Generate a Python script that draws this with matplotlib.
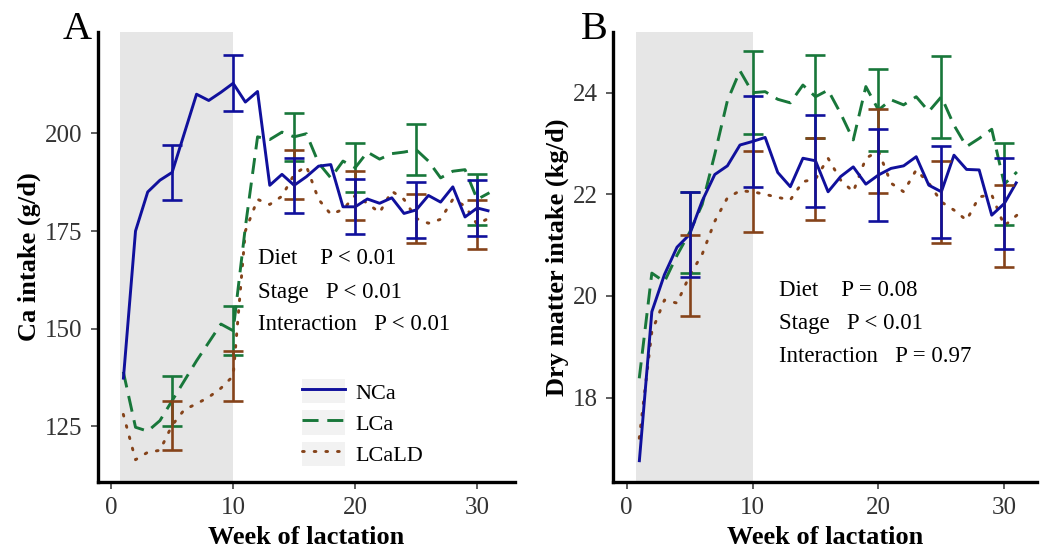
import matplotlib.pyplot as plt
import numpy as np
from matplotlib.lines import Line2D
from matplotlib.patches import Rectangle

plt.rcParams['font.family'] = ['Liberation Serif', 'DejaVu Serif']

weeks = np.arange(1, 32)
se_weeks = [5, 10, 15, 20, 25, 30]
diets = ['NCa', 'LCa', 'LCaLD']

# panel A - Ca intake (g/d)
ca_nca = [137, 175, 185, 188, 190, 200, 210, 208.4, 210.5, 212.8, 208, 210.7, 186.7, 189.5, 186.7, 188.9,
          191.6, 192, 181.2, 181.2, 183.2, 182.1, 183.5, 179.5, 180.4, 184.1, 182.4, 186.3, 178.6, 180.9, 180.1]
ca_lca = [139, 124.8, 123.8, 126.5, 131.6, 136.7, 141.8, 146.5, 151.2, 149.5, 176, 199.1, 198.4, 200.3, 199.1, 199.9,
          192.4, 188.6, 192.9, 191.2, 195.2, 193.4, 194.8, 195.2, 195.8, 192.9, 188.6, 190.3, 190.7, 183.1, 184.8]
ca_lcald = [128.1, 116.5, 118.4, 118.9, 125.3, 129.3, 130.8, 132.5, 134.8, 137.9, 175, 183.1, 181.8, 183.9, 189.5, 191.6,
            183.1, 179.3, 180.5, 184.1, 182.1, 179.7, 185.2, 183.1, 178.2, 177, 178, 183.1, 181.4, 176.7, 178.4]
ca_se = {'NCa': [7.0, 7.2, 7.1, 7.0, 7.1, 7.1],
         'LCa': [6.4, 6.2, 6.1, 6.2, 6.5, 6.5],
         'LCaLD': [6.3, 6.3, 6.3, 6.3, 6.3, 6.3]}

# panel B - dry matter intake (kg/d)
dm_nca = [16.73, 19.69, 20.42, 20.96, 21.21, 21.87, 22.39, 22.56, 22.97, 23.04, 23.12, 22.43, 22.15, 22.71, 22.66, 22.05,
          22.35, 22.54, 22.2, 22.38, 22.51, 22.56, 22.74, 22.18, 22.05, 22.77, 22.49, 22.48, 21.59, 21.82, 22.25]
dm_lca = [18.38, 20.45, 20.28, 20.8, 21.25, 21.8, 22.79, 23.84, 24.43, 24.0, 24.02, 23.87, 23.8, 24.15, 23.92, 24.05,
          23.59, 23.07, 24.12, 23.66, 23.86, 23.76, 23.92, 23.63, 23.92, 23.36, 22.94, 23.1, 23.28, 22.2, 22.44]
dm_lcald = [17.2, 19.3, 19.92, 19.86, 20.4, 20.82, 21.47, 21.93, 22.07, 22.05, 22.0, 21.94, 21.89, 22.25, 22.3, 22.71,
            22.28, 22.05, 22.71, 22.85, 22.22, 22.05, 22.48, 22.22, 21.85, 21.69, 21.49, 21.95, 21.99, 21.38, 21.59]
dm_se = {'NCa': [0.84, 0.89, 0.9, 0.9, 0.9, 0.9],
         'LCa': [0.79, 0.82, 0.82, 0.8, 0.81, 0.81],
         'LCaLD': [0.79, 0.8, 0.8, 0.82, 0.8, 0.81]}

stats_a = ['Diet    P < 0.01', 'Stage   P < 0.01', 'Interaction   P < 0.01']
stats_b = ['Diet    P = 0.08', 'Stage   P < 0.01', 'Interaction   P = 0.97']

colors = {'NCa': '#10109c', 'LCa': '#18773a', 'LCaLD': '#85431a'}
styles = {'NCa': '-', 'LCa': (0, (5.5, 3)), 'LCaLD': (0, (0.6, 3.4))}
caps = {'NCa': 'projecting', 'LCa': 'butt', 'LCaLD': 'round'}
LW = 2.1


def draw_panel(ax, data, se, ylim, yticks, xlim, ylabel, stats, stat_x, stat_y):
    ax.axvspan(0.75, 10, color='#e6e6e6', lw=0, zorder=0)

    idx = [w - 1 for w in se_weeks]
    # errorbars over the lines, blue one last so it sits on top
    for d in ['LCa', 'LCaLD', 'NCa']:
        y = np.array(data[d])
        ax.errorbar(se_weeks, y[idx], yerr=se[d], fmt='none', ecolor=colors[d],
                    elinewidth=1.9, capsize=7.5, capthick=1.9, zorder=3)
    for d in ['LCaLD', 'LCa', 'NCa']:
        ax.plot(weeks, data[d], color=colors[d], lw=LW, linestyle=styles[d],
                solid_capstyle='butt', dash_capstyle=caps[d], zorder=2)

    for s, yy in zip(stats, stat_y):
        ax.text(stat_x, yy, s, fontsize=16.5, ha='left', va='center')

    ax.set_xlim(*xlim)
    ax.set_ylim(*ylim)
    ax.set_xticks([0, 10, 20, 30])
    ax.set_yticks(yticks)
    for sp in ['top', 'right']:
        ax.spines[sp].set_visible(False)
    for sp in ['left', 'bottom']:
        ax.spines[sp].set_linewidth(2.4)
        ax.spines[sp].set_color('black')
    ax.tick_params(length=5, width=1.1, color='#333333', labelcolor='#333333',
                   labelsize=18, pad=6)
    ax.set_xlabel('Week of lactation', fontsize=19, fontweight='bold', labelpad=5)
    ax.set_ylabel(ylabel, fontsize=19, fontweight='bold', labelpad=3)


fig = plt.figure(figsize=(10.52, 5.54), dpi=100)
ax_a = fig.add_axes([0.0932, 0.130, 0.3964, 0.8128])
ax_b = fig.add_axes([0.583, 0.130, 0.4028, 0.8128])

draw_panel(ax_a, {'NCa': ca_nca, 'LCa': ca_lca, 'LCaLD': ca_lcald}, ca_se,
           (110.8, 226), [125, 150, 175, 200], (-1.07, 33.1), 'Ca intake (g/d)',
           stats_a, 12.05, [167.9, 159.4, 151.1])
draw_panel(ax_b, {'NCa': dm_nca, 'LCa': dm_lca, 'LCaLD': dm_lcald}, dm_se,
           (16.34, 25.2), [18, 20, 22, 24], (-1.06, 32.6), 'Dry matter intake (kg/d)',
           stats_b, 12.08, [20.1, 19.45, 18.8])

# legend keys with the light grey key background
handles = [(Rectangle((0, 0), 1, 1, facecolor='#f2f2f2', edgecolor='none'),
            Line2D([], [], color=colors[d], lw=LW, linestyle=styles[d], dash_capstyle=caps[d]))
           for d in diets]
ax_a.legend(handles, diets, loc='upper left', bbox_to_anchor=(0.462, 0.253), frameon=False,
            fontsize=16, borderpad=0, handlelength=1.95, handleheight=1.3,
            handletextpad=0.45, labelspacing=0.3)

fig.text(92 / 1052, 1 - 39 / 554, 'A', fontsize=29, ha='right', va='baseline')
fig.text(608 / 1052, 1 - 39 / 554, 'B', fontsize=29, ha='right', va='baseline')

fig.savefig('out.png', dpi=100)
